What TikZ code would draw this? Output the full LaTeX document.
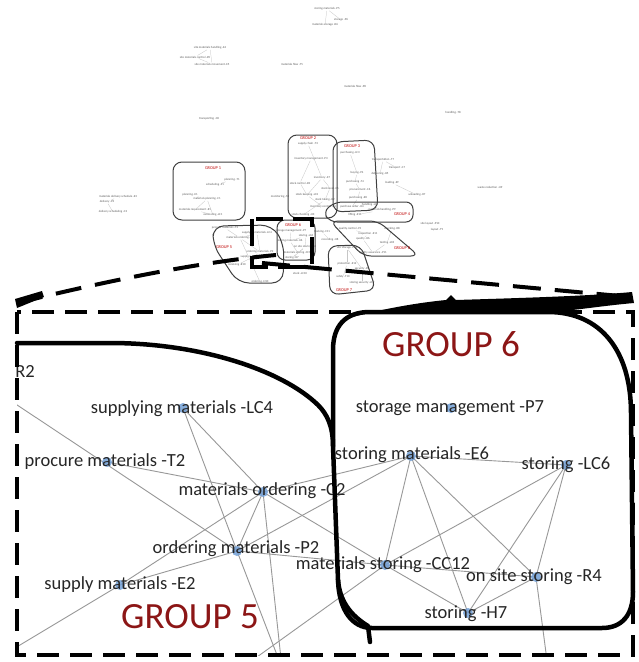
\documentclass[tikz,border=0pt]{standalone}
\usepackage{fontspec}
\setmainfont{Carlito}
\definecolor{grpred}{RGB}{140,22,22}
\definecolor{dotblue}{RGB}{115,160,215}
\definecolor{edgegray}{RGB}{152,152,152}
\begin{document}
\begin{tikzpicture}[x=1pt,y=-1pt,
  lbl/.style={inner sep=0pt, anchor=base, font=\fontsize{18.5}{20}\selectfont, text=black!85},
  grp/.style={inner sep=0pt, anchor=base, font=\fontsize{37}{40}\selectfont, text=grpred},
  dot/.style={fill=dotblue, fill opacity=0.85},
  edge/.style={draw=edgegray, line width=0.9pt},
  hull/.style={draw=black, line width=4.5pt, line cap=round, line join=round},
  frame/.style={draw=black, line width=4pt, dash pattern=on 22pt off 11pt},
  mini/.style={inner sep=0.3pt, font=\fontsize{3}{3.5}\selectfont, text=black!65},
  minigrp/.style={inner sep=0pt, font=\fontsize{4.3}{5}\selectfont, text=red!75!black},
  minihull/.style={draw=black!75, line width=1pt, rounded corners=9pt},
  miniedge/.style={draw=gray!45, line width=0.3pt}
]
\fill[white] (0,0) rectangle (638,662);
\useasboundingbox (0,0) rectangle (638,662);

% ---------------- overview network ----------------
\foreach \n/\x/\y/\t in {
  a1/327/9/storing materials -P5, a2/341/20/storage -P6, a3/325/25/materials storage -R6,
  b1/210/48/site materials handling -E4, b2/195/57/site materials control -R5, b3/212/64/site materials movement -E5,
  s1/292/64/materials flow -T5, s2/355/86/materials flow -P8, s3/453/113/handling -T8, s4/209/119/transporting -C8,
  c1/118/197/materials delivery schedule -E3, c2/107/202/delivery -P3, c3/113/212/delivery scheduling -C3,
  g1a/232/180/planning -T1, g1b/215/185/scheduling -P1, g1c/190/195/planning -E1,
  g1d/207/199/materials planning -C1, g1e/195/210/materials requirement -R1, g1f/213/215/estimating -LC1,
  q1/280/197/monitoring -T6,
  g2a/308/144/supply chain -T3, g2b/311/159/inventory management -P3, g2c/322/178/inventory -E7,
  g2d/300/183/stock control -R3, g2e/330/188/stock level -C5, g2f/307/195/stock keeping -LC2,
  g2g/325/200/stock taking -H2, g2h/323/207/inventory control -C4, g2i/303/215/stock checking -H3,
  g3a/350/153/purchasing -LC3, g3b/357/173/buying -P4, g3c/355/182/purchasing -T4,
  g3d/360/190/procurement -C6, g3e/358/198/purchasing -E8, g3f/352/207/purchase order -H4,
  u1/383/160/transportation -T7, u2/397/168/transport -C7, u3/380/174/delivering -H5,
  u4/392/183/loading -E9, u5/417/195/unloading -R7, u6/490/187/waste reduction -H9,
  g4a/370/205/handling -LC7, g4b/382/210/materials handling -P9, g4c/355/215/lifting -E10,
  v1/430/224/site layout -P10, v2/437/230/layout -T9,
  g8a/350/229/quality control -C9, g8b/368/234/inspection -E11, g8c/392/229/checking -R8,
  g8d/363/239/quality -H6, g8e/387/243/testing -LC8, g8f/373/253/quality assurance -P11,
  g7a/347/248/site storage -C10, g7b/347/264/protection -E12, g7c/362/269/security -R9,
  g7d/343/277/safety -T10, g7e/362/283/storing security -LC9,
  w1/322/232/tracking -C11, w2/330/240/recording -H8,
  g5a/225/228/procure materials -T2, g5b/257/233/supplying materials -LC4, g5c/240/238/materials ordering -C2,
  g5d/260/252/ordering materials -P2, g5e/253/257/supply materials -E2, g5f/237/265/receiving -R10, g5g/260/282/ordering -H10,
  g6a/291/231/storage management -P7, g6b/290/241/storing materials -E6, g6c/306/236/storing -LC6,
  g6d/305/247/on site storing -R4, g6e/298/253/materials storing -CC12, g6f/292/258/storing -H7,
  z1/300/273/stock -LC10}
  \node[mini] (\n) at (\x,\y) {\t};

\foreach \a/\b in {a1/a2, a1/a3, b1/b2, b1/b3, b2/b3, c1/c2, c2/c3,
  g1c/g1d, g1d/g1e, g1e/g1f, g1d/g1f, g1a/g1b,
  g2a/g2c, g2b/g2d, g2c/g2f, g2d/g2f, g2e/g2g, g2f/g2h, g2g/g2i, g2c/g2e,
  g3a/g3b, g3b/g3c, g3c/g3d, g3d/g3e, g3e/g3f, u1/u2, u1/u3, u4/u5,
  g4a/g4b, g4b/g4c, g8a/g8b, g8b/g8d, g8c/g8e, g8d/g8f, g8e/g8f,
  g7a/g7b, g7a/g7c, g7b/g7d, g7c/g7e, w1/w2,
  g5a/g5c, g5b/g5c, g5c/g5d, g5d/g5e, g5e/g5f, g5c/g5g, g5b/g5d,
  g6a/g6b, g6b/g6c, g6b/g6e, g6c/g6d, g6d/g6e, g6e/g6f, g6f/g6d}
  \draw[miniedge] (\a) -- (\b);

% group outlines of the overview
\draw[minihull] (173,162) rectangle (245,220);
\draw[minihull] (288,135) rectangle (337,218);
\draw[minihull] (333,142) -- (374,140) -- (378,210) -- (333,212) -- cycle;
\draw[minihull, rounded corners=7pt] (323,212) -- (335,202) -- (413,202) -- (413,222) -- (330,222) -- cycle;
\draw[minihull, rounded corners=8pt] (330,221) -- (378,221) -- (419,256) -- (363,256) -- cycle;
\draw[minihull, rounded corners=9pt] (328,246) -- (361,245) -- (376,290) -- (330,295) -- cycle;
\draw[minihull, rounded corners=11pt] (213,226) -- (272,225) -- (284,244) -- (283,283) -- (238,283) -- (213,245) -- cycle;
\draw[minihull, rounded corners=8pt] (277,220) rectangle (315,260);

\node[minigrp] (h1) at (213,168) {GROUP 1};
\node[minigrp] (h2) at (308,138) {GROUP 2};
\node[minigrp] (h3) at (352,146) {GROUP 3};
\node[minigrp] (h4) at (402,214) {GROUP 4};
\node[minigrp] (h5) at (224,247) {GROUP 5};
\node[minigrp] (h6) at (293,225) {GROUP 6};
\node[minigrp] (h7) at (344,290) {GROUP 7};
\node[minigrp] (h8) at (402,248) {GROUP 8};

% magnified region and its guide lines
\coordinate (fa) at (252,219);
\coordinate (fb) at (312,267);
\draw[frame, dash pattern=on 27pt off 10pt] (fa) rectangle (fb);
\coordinate (zl) at (17,303);
\coordinate (zle) at (276,255);
\coordinate (zr0) at (262,263);
\coordinate (zr) at (631,297);
\draw[frame, dash pattern=on 26pt off 14pt] (zl) .. controls (90,285) and (190,263) .. (zle);
\draw[frame, dash pattern=on 28pt off 14pt] (zr0) -- (zr);
\fill (15,299) -- (42,291) -- (44,297) -- (17,308) -- cycle;

% ---------------- magnified panel ----------------
\coordinate (r2) at (-13,385);
\coordinate (lc4) at (183,408);
\coordinate (t2) at (107,462);
\coordinate (c2) at (263,492);
\coordinate (p2) at (237,551);
\coordinate (e2) at (120,585);
\coordinate (e6) at (411,456);
\coordinate (p7) at (451,408);
\coordinate (lc6) at (566,465);
\coordinate (cc12) at (385,565);
\coordinate (r4) at (536,577);
\coordinate (h7) at (468,613);
\coordinate (xb) at (282,668);
\coordinate (xc) at (250,662);
\coordinate (xe) at (0,657);
\coordinate (xr) at (548,668);

\begin{scope}
  \clip (17,312) rectangle (633,655);
  \foreach \a/\b in {r2/p2, t2/c2, lc4/p2, lc4/c2, c2/p2, c2/e2, e2/p2, e2/xe,
    p2/xb, c2/xb, c2/e6, p2/e6, c2/cc12, p2/cc12, cc12/xc,
    e6/cc12, e6/h7, e6/r4, e6/lc6, lc6/cc12, lc6/h7, lc6/r4,
    cc12/h7, h7/r4, cc12/r4, r4/xr}
    \draw[edge] (\a) -- (\b);
  \foreach \n in {lc4, t2, c2, p2, e2, e6, p7, lc6, cc12, r4, h7}
    \fill[dot] (\n) circle (5pt);
\end{scope}

\node[lbl] (lc4t) at (182,413) {supplying materials -LC4};
\node[lbl] (t2t) at (105,466) {procure materials -T2};
\node[lbl] (c2t) at (262,495) {materials ordering -C2};
\node[lbl] (p2t) at (236,553) {ordering materials -P2};
\node[lbl] (e2t) at (120,589) {supply materials -E2};
\node[lbl] (e6t) at (412,459) {storing materials -E6};
\node[lbl] (p7t) at (450,412) {storage management -P7};
\node[lbl] (lc6t) at (566,469) {storing -LC6};
\node[lbl] (cc12t) at (383,569) {materials storing -CC12};
\node[lbl] (r4t) at (534,581) {on site storing -R4};
\node[lbl] (h7t) at (466,618) {storing -H7};
\node[lbl, anchor=base east] (r2t) at (35,377) {R2};
\node[grp] (g6t) at (451,356) {GROUP 6};
\node[grp] (g5t) at (190,628) {GROUP 5};

% hand-drawn group outlines
\draw[hull] (17,343) -- (110,343) .. controls (200,343) and (282,370) .. (318,405)
  .. controls (327,414) and (333,426) .. (333,446) -- (338,580)
  .. controls (340,605) and (355,618) .. (368,626) -- (370,642);
\draw[hull] (333,446) -- (333,350) .. controls (333,326) and (345,312) .. (370,312)
  -- (548,312) .. controls (600,312) and (631,350) .. (631,413)
  -- (633,592) .. controls (633,615) and (622,628) .. (602,628)
  -- (372,628) .. controls (352,628) and (339,610) .. (338,580);
\fill (348,318) .. controls (390,307) and (425,302) .. (446,300) -- (451,295) -- (456,300)
  .. controls (520,298) and (590,296) .. (632,292) -- (634,303)
  .. controls (600,306) and (580,310) .. (540,313) -- (360,314) -- cycle;

\draw[frame] (17,312) rectangle (633,655);
\end{tikzpicture}
\end{document}
